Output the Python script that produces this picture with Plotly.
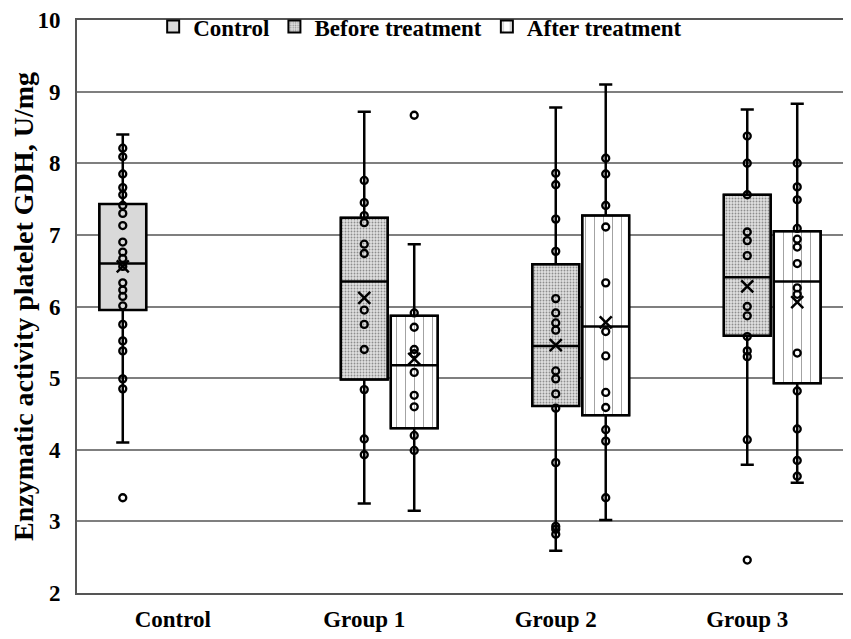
import plotly.graph_objects as go

# categories on the x axis
categories = ["Control", "Group 1", "Group 2", "Group 3"]
series_names = ["Control", "Before treatment", "After treatment"]

# one entry per box: (series, category index)
box_series = ["Control", "Before treatment", "After treatment",
              "Before treatment", "After treatment",
              "Before treatment", "After treatment"]
box_category = [0, 1, 1, 2, 2, 3, 3]

# box statistics
q1 = [5.95, 4.98, 4.30, 4.61, 4.48, 5.59, 4.93]
median = [6.60, 6.35, 5.18, 5.45, 5.72, 6.41, 6.35]
q3 = [7.43, 7.24, 5.87, 6.59, 7.27, 7.56, 7.05]
lower = [4.10, 3.25, 3.15, 2.59, 3.02, 3.79, 3.54]
upper = [8.40, 8.72, 6.87, 8.78, 9.10, 8.75, 8.83]
means = [6.56, 6.12, 5.27, 5.46, 5.78, 6.28, 6.06]

# individual points per box
points = [
    [8.21, 8.09, 7.85, 7.66, 7.56, 7.41, 7.30, 7.13, 6.90, 6.76, 6.67, 6.56,
     6.33, 6.23, 6.14, 6.01, 5.75, 5.52, 5.38, 4.99, 4.85, 3.33],
    [7.76, 7.45, 7.27, 7.17, 6.87, 6.74, 5.95, 5.75, 5.40, 4.84, 4.15, 3.93],
    [8.67, 5.91, 5.71, 5.40, 5.34, 5.08, 4.76, 4.60, 4.20, 3.99],
    [7.86, 7.70, 7.22, 6.77, 6.11, 5.91, 5.77, 5.67, 5.10, 4.99, 4.78, 4.58,
     3.82, 2.93, 2.89, 2.82],
    [8.07, 7.85, 7.41, 7.11, 6.33, 5.65, 5.31, 4.80, 4.59, 4.28, 4.12, 3.33],
    [8.38, 8.00, 7.56, 7.04, 6.92, 6.71, 6.00, 5.87, 5.58, 5.38, 5.30, 4.14,
     2.46],
    [8.00, 7.67, 7.49, 7.09, 6.94, 6.83, 6.60, 6.26, 6.17, 5.35, 4.82, 4.29,
     3.85, 3.63],
]

y_ticks = [2, 3, 4, 5, 6, 7, 8, 9, 10]

slot_offset = {"Control": -0.261, "Before treatment": 0.0, "After treatment": 0.261}
box_width = 0.245
font_family = "Liberation Serif"

styles = {
    "Control": dict(color="#d9d9d9"),
    "Before treatment": dict(
        color="#ffffff",
        pattern=dict(shape=".", fgcolor="#3a3a3a", bgcolor="#e0e0e0",
                     size=3, solidity=0.3, fillmode="overlay"),
    ),
    "After treatment": dict(
        color="#ffffff",
        pattern=dict(shape="|", fgcolor="#333333", bgcolor="#ffffff",
                     size=9, solidity=0.1, fillmode="overlay"),
    ),
}

fig = go.Figure()

shown = set()
for i, name in enumerate(box_series):
    pos = box_category[i] + slot_offset[name]
    st = styles[name]
    marker = dict(color=st["color"], line=dict(color="black", width=2))
    if "pattern" in st:
        marker["pattern"] = st["pattern"]
    # patterned fill of the box
    fig.add_trace(go.Bar(
        x=[pos], y=[q3[i] - q1[i]], base=[q1[i]], width=box_width,
        marker=marker, name=name, legendgroup=name,
        showlegend=name not in shown, hoverinfo="skip",
    ))
    shown.add(name)
    # box outline, median and whiskers
    fig.add_trace(go.Box(
        x=[pos], q1=[q1[i]], median=[median[i]], q3=[q3[i]],
        lowerfence=[lower[i]], upperfence=[upper[i]],
        width=box_width, whiskerwidth=0.28,
        fillcolor="rgba(0,0,0,0)", line=dict(color="black", width=2.5),
        showlegend=False, legendgroup=name, name=name,
    ))
    # data points
    fig.add_trace(go.Scatter(
        x=[pos] * len(points[i]), y=points[i], mode="markers",
        marker=dict(symbol="circle-open", size=7, color="black",
                    line=dict(width=2.3, color="black")),
        showlegend=False, legendgroup=name, hoverinfo="y",
    ))
    # mean
    fig.add_trace(go.Scatter(
        x=[pos], y=[means[i]], mode="markers",
        marker=dict(symbol="x-thin", size=12, color="black",
                    line=dict(width=2.5, color="black")),
        showlegend=False, legendgroup=name, hoverinfo="y",
    ))

fig.update_layout(
    width=851,
    height=639,
    margin=dict(l=69, r=16, t=12, b=54, autoexpand=False),
    plot_bgcolor="white",
    paper_bgcolor="white",
    font=dict(family=font_family, color="black"),
    barmode="overlay",
    legend=dict(
        orientation="h", x=0.448, xanchor="center", y=1.026, yanchor="top",
        font=dict(family=font_family, size=23, weight="bold"),
        bgcolor="rgba(0,0,0,0)", itemwidth=30, tracegroupgap=0,
    ),
)
fig.update_xaxes(
    range=[-0.5, 3.5],
    tickvals=list(range(len(categories))),
    ticktext=categories,
    tickfont=dict(size=23, weight="bold"),
    showgrid=False,
    showline=True, mirror=True, linecolor="#555555", linewidth=2,
    ticks="", ticklabelstandoff=4, ticklabeloverflow="allow",
    zeroline=False,
    automargin=False,
)
fig.update_yaxes(
    range=[2, 10],
    tickvals=y_ticks,
    tickfont=dict(size=23, weight="bold"),
    showgrid=True, gridcolor="#7f7f7f", gridwidth=1.5,
    showline=True, mirror=True, linecolor="#555555", linewidth=2,
    ticks="", ticklabelstandoff=10, ticklabeloverflow="allow",
    zeroline=False,
    automargin=False,
    title=dict(text="Enzymatic activity platelet GDH, U/mg",
               font=dict(size=28, weight="bold"), standoff=30),
)

fig.write_html("out.html")
